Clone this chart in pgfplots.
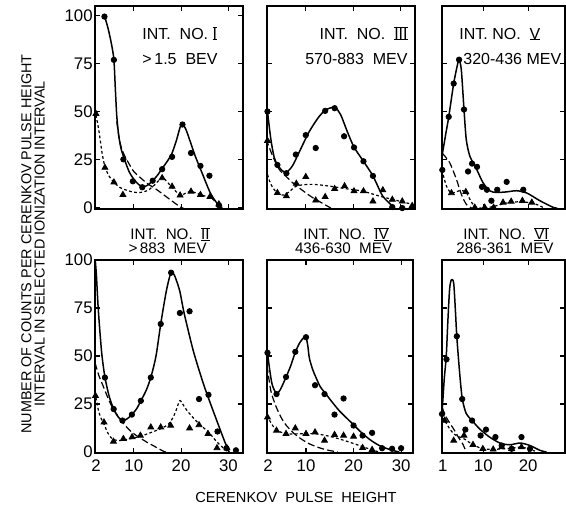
\documentclass[border=0pt]{standalone}
\usepackage{fontspec}
\setmainfont{Liberation Sans}
\usepackage{pgfplots}
\pgfplotsset{compat=1.18}

% roman numeral with bars above and below, as in the lettering
\newcommand\rn[1]{\setbox0\hbox{#1}%
  \rlap{\rule[-0.45pt]{\wd0}{0.45pt}}\rlap{\rule[\ht0]{\wd0}{0.45pt}}\box0}
\newcommand\rnu[1]{\setbox0\hbox{#1}%
  \rlap{\rule[-0.45pt]{\wd0}{0.45pt}}\box0}

\pgfplotsset{
  panel/.style={
    scale only axis, anchor=south west,
    axis line style={line width=0.65pt},
    every tick/.style={black, line width=0.55pt},
    tick align=inside, tick pos=both, major tick length=2.6pt,
    ytick={25,50,75}, yticklabels={},
    xtick={10,20,30}, xticklabels={},
    tick label style={font=\fontsize{8.4}{9}\selectfont},
    axis on top,
  },
  toprow/.style={height=101.5pt, ymin=-0.5, ymax=105},
  botrow/.style={height=96.5pt, ymin=-0.5, ymax=100},
  colA/.style={width=74pt, xmin=1.8, xmax=33.1},
  colC/.style={width=61.5pt, xmin=0.8, xmax=28.2, xtick={10,20}},
  leftlab/.style={ytick={0,25,50,75,100}, yticklabels={0,25,50,75,100},
    yticklabel style={inner sep=1pt}},
  botlabA/.style={xticklabels={10,20,30}, extra x ticks={2}, extra x tick labels={2},
    extra x tick style={major tick length=0pt}},
  botlabC/.style={xticklabels={10,20}, extra x ticks={1}, extra x tick labels={1},
    extra x tick style={major tick length=0pt}},
  pts/.style={only marks, mark=*, mark size=1.35pt, black},
  tri/.style={only marks, mark=triangle*, mark size=1.7pt, black},
  sol/.style={black, line width=0.75pt, smooth, tension=0.45, no marks},
  ldash/.style={black, line width=0.6pt, dash pattern=on 3.5pt off 1.6pt, smooth, tension=0.45, no marks},
  sdash/.style={black, line width=0.6pt, dash pattern=on 1.4pt off 1.2pt, smooth, tension=0.45, no marks},
}

\begin{document}
\begin{tikzpicture}
\useasboundingbox (0,0) rectangle (283pt,255pt);

% ---------------- INT. NO. I ----------------
\begin{axis}[panel, toprow, colA, leftlab, at={(47.5pt,150.5pt)}]
\addplot[sol] coordinates {(3.8,100) (4.6,93) (5.3,85) (5.8,77) (6.1,62) (6.4,48) (6.8,38) (7.3,31)
  (8,25.5) (9,19) (10,15) (11,12.3) (12,11) (13,12) (14,14.2) (15,17) (16,20.5) (17,24) (18,28)
  (19,35) (19.8,42) (20.3,43.7) (21,41) (21.6,37) (23,27) (24.4,18.5) (26.1,8.3) (27.3,3.5) (28,1.5) (28.7,0)};
\addplot[ldash] coordinates {(6.4,45) (6.8,38) (7.3,32) (8,27.5) (9,23) (10,19) (11.75,15) (13,12.5)
  (14.6,10) (16,7.5) (17.4,4.9) (19,2) (20,0.3) (20.5,0)};
\addplot[sdash] coordinates {(1.8,51) (2.6,40.5) (3.3,28.6) (3.9,21.5) (4.8,16.5) (5.8,13.4) (7,10.8)
  (8.2,9.5) (9.5,8.5) (11,8) (12.2,8.5) (13.2,9.5) (14.6,12.5) (16,16) (17,13.7) (18.4,10) (19.8,6.6)
  (21,7.8) (22.1,8.6) (23,8) (24.1,6.9) (26.1,5.5) (27,4) (28,1.5) (28.5,0)};
\addplot[pts] coordinates {(3.8,99.5) (5.8,77) (7.8,25.3) (9.8,13.9) (11.8,10.8) (14,14.2) (16,20.2)
  (18.1,26.6) (20.3,43.4) (22.1,28.6) (24.1,21.9) (26,16.8) (28,1.5)};
\addplot[tri] coordinates {(2,49) (3.9,21) (5.8,13.4) (7.7,6.9) (16,15.6) (18.1,11.2) (19.8,6.6)
  (22.1,8.6) (24.1,6.9) (26.1,5.8) (28,2)};
\end{axis}

% ---------------- INT. NO. III ----------------
\begin{axis}[panel, toprow, colA, at={(133.5pt,150.5pt)}]
\addplot[sol] coordinates {(1.9,50.2) (2.6,36) (3.3,26.5) (4,22.5) (5,19.5) (5.9,18.5) (7.2,22)
  (8.6,29) (10.7,39.6) (12.8,47.5) (14.2,51) (15.6,52.3) (16.3,52.2) (17.4,48.4) (18.8,39.6)
  (20.2,31.7) (22.2,24.3) (24.2,16.7) (26.2,6.5) (28,1.8) (28.7,0)};
\addplot[ldash] coordinates {(1.6,36) (3,27) (4.4,20) (5.8,16.5) (7.2,13.2) (8.6,10.5) (10,7.9)
  (11.4,5.5) (12.8,3.5) (14,1.8) (15.3,0)};
\addplot[sdash] coordinates {(1.6,20) (2.5,13) (3.5,9) (4.5,7) (5.5,6.8) (6.5,8.5) (8,11.4) (10,12.2)
  (11.5,12.3) (13,12) (15,11.4) (18.6,10) (22,8.8) (25.6,6.2) (28.5,4.4) (32.7,1.8)};
\addplot[pts] coordinates {(1.9,50.2) (4,22.4) (5.9,18.1) (7.9,27.8) (10,37.9) (12.1,31.2) (14.1,50.5)
  (16.1,51.9) (18.1,37.3) (20.2,31.5) (22.2,24.3) (24.2,16.7) (28.3,0.5) (30.4,0)};
\addplot[tri] coordinates {(1.9,35) (4,7.9) (5.9,6.2) (8,12.7) (10,16.2) (12.1,4) (14.1,5.8) (16.1,10)
  (18.2,11.4) (20.2,8.8) (22.2,8.8) (24.2,3.5) (26.3,9.3) (28.3,4.4) (30.4,3.5) (32.5,1.2)};
\end{axis}

% ---------------- INT. NO. V ----------------
\begin{axis}[panel, toprow, colC, at={(221pt,150.5pt)}]
\addplot[sol] coordinates {(0.9,28.4) (1.6,38) (2.3,47.4) (3.4,64.7) (4.2,74) (4.6,77.1) (5.1,71.9)
  (5.7,51.2) (6.2,35.7) (7,27) (8.5,20.2) (9.9,13.3) (11.4,9) (12.9,8.1) (15.2,8.4) (17.4,9)
  (19.7,7.8) (22.6,3.8) (25.6,0.3) (26.5,0)};
\addplot[ldash] coordinates {(0.9,28.4) (2.5,23.6) (4,15) (5.1,7.2) (6.2,2) (7.4,0)};
\addplot[sdash] coordinates {(0.8,19.8) (1.76,11.6) (2.9,7.8) (4.7,9) (6.1,8.4) (7.4,2.9) (8.5,0.3)
  (10.5,0) (12.9,1.2) (15.2,2.6) (18.2,3.3) (20.8,2.6) (22.6,1.2) (23.5,0)};
\addplot[pts] coordinates {(0.87,19.8) (2.3,47.4) (3.4,64.7) (4.6,77.1) (5.7,51.2) (6.6,19) (7.5,23.1)
  (8.6,21.4) (9.7,11) (10.8,9.5) (11.8,3.8) (13.1,9.5) (15.2,13.6) (18.9,9.5)};
\addplot[tri] coordinates {(2.9,7.8) (6.1,8.4) (8.1,0.3) (10.3,0.3) (12.3,0.3) (14.4,2.9) (16.2,3.4)
  (18.7,3.8) (20.8,2.9)};
\end{axis}

% ---------------- INT. NO. II ----------------
\begin{axis}[panel, botrow, colA, leftlab, botlabA, at={(47.5pt,28.5pt)}]
\addplot[sol] coordinates {(1.85,100) (2.1,92) (2.5,74) (3.2,52) (3.9,39) (4.8,29) (5.75,22.4)
  (6.7,18.3) (7.6,16.4) (8.6,17.3) (9.6,19.5) (10.6,22.5) (11.5,26.7) (12.6,32) (13.6,38.8)
  (14.7,50) (15.7,66.7) (16.8,82.8) (17.5,90.5) (17.9,93.4) (18.5,92.5) (19,89.5) (19.75,83.6)
  (20.5,74) (21.3,65.5) (22.7,51.7) (24.8,35) (26.9,20.7) (29,6.9) (30,0.9) (30.2,0)};
\addplot[ldash] coordinates {(1.8,46.5) (2.6,40) (3.5,34.5) (4.4,29) (5.3,24) (6.3,20) (7.35,16.4)
  (8.5,13) (9.6,10.3) (10.9,8) (12.2,6) (13.2,4.5) (14.3,3.1) (15.4,1.5) (16.4,0.3) (16.8,0)};
\addplot[sdash] coordinates {(1.8,31) (2.5,22) (3,18) (3.7,14.5) (4.5,10) (5.2,7.5) (6,6.3) (7,6)
  (8,6.3) (10,7.3) (12,8.7) (14,10.5) (16,12.5) (17.3,14.5) (18.3,18) (19,22) (19.75,26.8)
  (20.6,24) (21.3,21.5) (22.7,17.5) (24.1,14) (25.8,10.4) (27.6,5.2) (29,2) (30.1,0)};
\addplot[pts] coordinates {(3.9,38.8) (5.75,22.4) (7.6,16.4) (9.6,19.5) (11.5,26.7) (13.6,38.8)
  (15.7,66.7) (17.9,93.4) (19.75,72.4) (21.8,73.3) (23.8,27.6) (25.8,29.8) (27.7,10.7) (29.6,2) (31.6,0.9)};
\addplot[tri] coordinates {(1.9,29.3) (3.7,15.5) (5.7,5.5) (7.8,6.9) (9.65,7.8) (11.4,8.6) (13.6,12.9)
  (15.7,12.9) (17.8,13.8) (21.8,12.4) (23.8,14.1) (25.7,9.5) (27.6,2.1) (29.7,2.1)};
\end{axis}

% ---------------- INT. NO. IV ----------------
\begin{axis}[panel, botrow, width=73pt, xmin=1.8, xmax=32.5, botlabA, at={(133.5pt,28.5pt)}]
\addplot[sol] coordinates {(1.9,52) (2.3,44) (2.9,35) (3.8,30.5) (4.6,32.5) (5.8,39) (6.8,45)
  (7.75,52) (8.7,57) (9.6,59.8) (10,60) (10.4,55) (10.7,49) (11.4,43) (12.1,38.8) (13,34)
  (14.2,30.2) (15.5,26) (17,21.5) (18.5,17.8) (19.8,14.7) (21.2,11.2) (22.6,8.1) (24,5.5)
  (25.4,3.4) (26.8,2) (28.2,0.9) (29.6,0)};
\addplot[ldash] coordinates {(1.8,45) (2.6,32) (3.5,25) (4.4,19.8) (5.5,15) (7.2,10.3) (9,6.8)
  (10.7,4.3) (12.5,2.5) (14.2,1.2) (16.7,0)};
\addplot[sdash] coordinates {(1.8,19) (2.8,14.5) (3.8,11.5) (5.8,9.5) (8.6,9.5) (12.1,9.5) (15.6,7.8)
  (19.1,5.2) (22.6,2.2) (24.7,0.5) (25.5,0)};
\addplot[pts] coordinates {(1.9,51.7) (3.8,30.2) (5.8,39.1) (7.75,52.2) (10,59.8) (11.9,34.8)
  (13.9,30.2) (16,19.5) (17.9,27.9) (20,13.8) (21.9,8.6) (23.9,10) (26,2) (28.1,1.7) (30,2)};
\addplot[tri] coordinates {(1.9,18.1) (3.8,11.2) (5.8,9.5) (7.75,12.4) (10,9.5) (11.9,10.3) (13.9,6)
  (16,9) (17.9,8.6) (20,8.1) (21.9,2.2) (23.9,1.2)};
\end{axis}

% ---------------- INT. NO. VI ----------------
\begin{axis}[panel, botrow, colC, botlabC, at={(221pt,28.5pt)}]
\addplot[sol] coordinates {(0.85,22) (1.3,38) (1.75,50) (2.1,68) (2.5,85) (2.9,89.7) (3.4,88)
  (3.8,73) (4.1,60) (4.7,42) (5.3,28) (6.2,20) (7.5,16.4) (9.2,12) (11.4,7.8) (13.7,4.7)
  (15.9,3.8) (18.2,4.7) (20.4,3.4) (22.6,0.9) (24.1,0)};
\addplot[ldash] coordinates {(0.8,23.3) (1.75,18.1) (2.7,14.5) (3.6,11.2) (4.5,7.5) (5.4,4.3) (6.2,0)};
\addplot[sdash] coordinates {(0.8,18.1) (1.4,16.4) (2.4,12.5) (3.4,9.5) (4.5,8) (5.7,6.9) (7.7,3.8)
  (9.9,1.7) (12.2,1.4) (14.5,1.7) (16.6,2.1) (18.5,2.6) (20.4,1.4) (21.5,0.5)};
\addplot[pts] coordinates {(0.8,19.8) (1.8,48.3) (4.1,60.3) (5.3,27.6) (6,11.7) (7.5,16.4) (9.4,8.6)
  (10.6,11.7) (12.7,7.8) (14.1,3.4) (16.3,1.7) (18.5,7.8) (20.4,1.7)};
\addplot[tri] coordinates {(1.4,16.4) (3.4,6) (5.7,8.6) (7.7,3.8) (9.9,1.7) (12.2,1.4) (14.1,2.6)
  (16.3,1.7) (18.5,2.6)};
\end{axis}

% ---------------- panel captions ----------------
\begin{scope}[every node/.style={font=\fontsize{8}{9}\selectfont, inner sep=0pt}]
\node[anchor=base west] at (71pt,235.3pt) {INT.\ \ NO.\ \rn{I}};
\node[anchor=base west] at (71pt,222.5pt) {>\,1.5\ \ BEV};
\node[anchor=base east] at (204pt,235.3pt) {INT.\ \ NO.\ \ \rn{III}};
\node[anchor=base east] at (204pt,222.8pt) {570-883\ \ MEV};
\node[anchor=base west] at (229.5pt,235.3pt) {INT.\ NO.\ \ \rnu{V}};
\node[anchor=base west] at (231.5pt,222.5pt) {320-436\ MEV};
\end{scope}
\begin{scope}[every node/.style={font=\fontsize{7.6}{9}\selectfont, inner sep=0pt}]
\node[anchor=base] at (85pt,135.2pt) {INT.\ \ NO.\ \ \rn{II}};
\node[anchor=base] at (83.8pt,128.2pt) {>\,883\ \ MEV};
\node[anchor=base] at (173pt,135.2pt) {INT.\ \ NO.\ \ \rn{IV}};
\node[anchor=base] at (171.8pt,128.2pt) {436-630\ \ MEV};
\node[anchor=base] at (253pt,135.2pt) {INT.\ \ NO.\ \ \rn{VI}};
\node[anchor=base] at (252.5pt,128.2pt) {286-361\ \ MEV};
\end{scope}

% axis titles
\node[rotate=90, align=center, font=\fontsize{7.2}{6.6}\selectfont] at (16.5pt,133pt)
  {NUMBER\ OF\ COUNTS\ PER\ CERENKOV\ PULSE\ HEIGHT\\INTERVAL\ IN\ SELECTED\ IONIZATION\ INTERVAL};
\node[anchor=base, font=\fontsize{7.3}{8}\selectfont] at (148pt,4pt) {CERENKOV\ \ PULSE\ \ HEIGHT};
\end{tikzpicture}
\end{document}
